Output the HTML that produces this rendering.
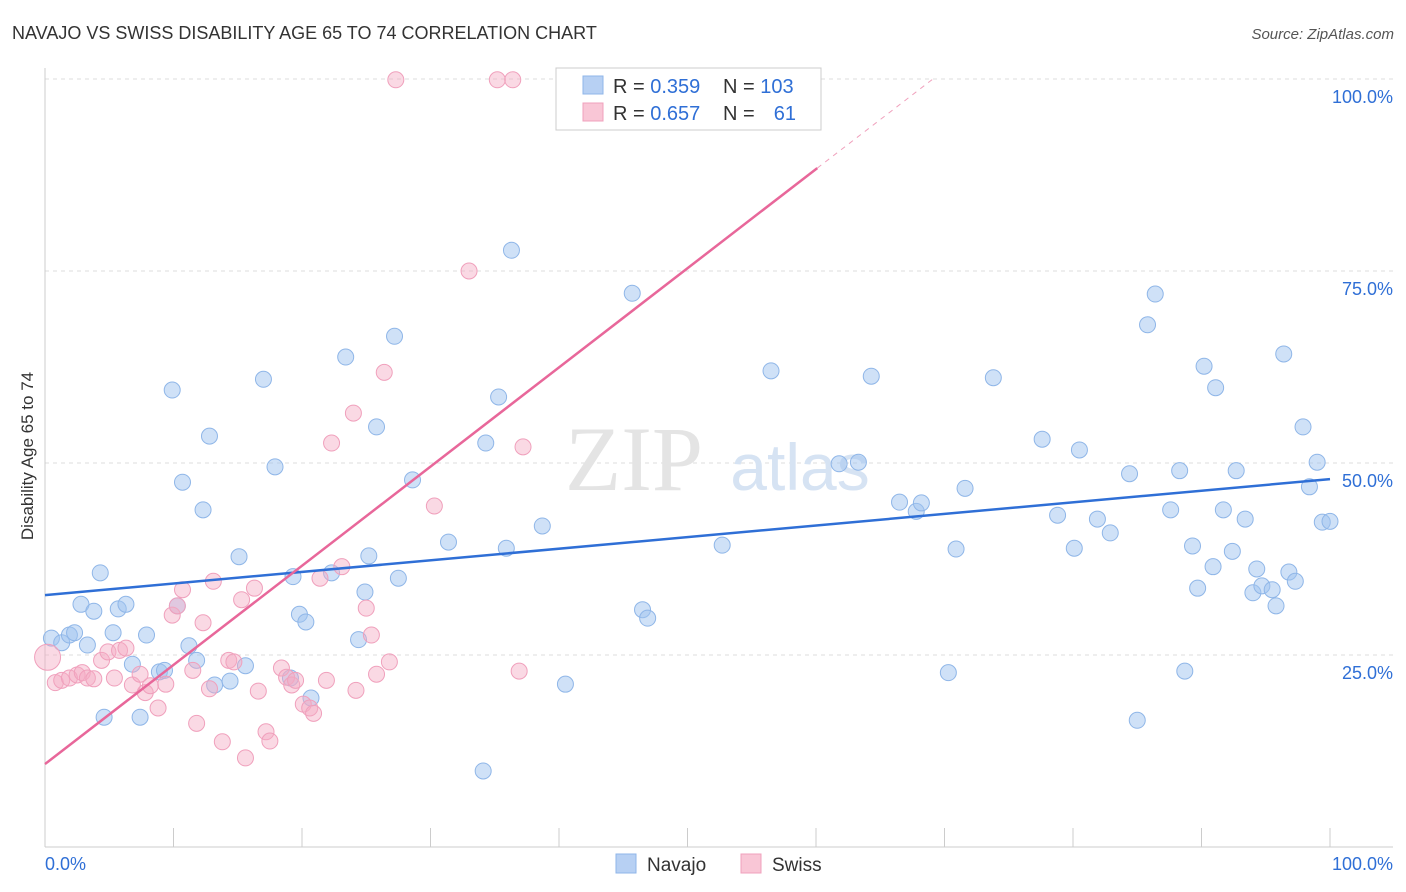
<!DOCTYPE html>
<html><head><meta charset="utf-8">
<style>
body{margin:0;background:#fff;font-family:"Liberation Sans",sans-serif;}
svg{display:block}
</style></head>
<body>
<svg id="chart" width="1406" height="892">
<text x="12" y="39" font-size="18" fill="#333">NAVAJO VS SWISS DISABILITY AGE 65 TO 74 CORRELATION CHART</text>
<text x="1394" y="39" font-size="15" fill="#555" font-style="italic" text-anchor="end">Source: ZipAtlas.com</text>
<text x="33" y="456" font-size="17" fill="#333" text-anchor="middle" transform="rotate(-90 33 456)">Disability Age 65 to 74</text>
<g id="grid"></g>
<g>
<text x="634" y="490" font-size="92" fill="#e4e4e4" font-family="Liberation Serif,serif" text-anchor="middle">ZIP</text>
<text x="800" y="490" font-size="66" fill="#d6e3f3" text-anchor="middle">atlas</text>
</g>
<g id="pts"></g>
<g id="lines"></g>
<g>
<rect x="556" y="68" width="265" height="62" fill="#fff" stroke="#ccc"/>
<rect x="583" y="76" width="20" height="18" fill="#b7d0f3" stroke="#8fb6e8"/>
<rect x="583" y="103" width="20" height="18" fill="#f9c6d6" stroke="#f0a0bc"/>
<text x="613" y="93" font-size="20" fill="#333">R = <tspan fill="#2f6fd6">0.359</tspan></text>
<text x="723" y="93" font-size="20" fill="#333">N = <tspan fill="#2f6fd6">103</tspan></text>
<text x="613" y="120" font-size="20" fill="#333">R = <tspan fill="#2f6fd6">0.657</tspan></text>
<text x="723" y="120" font-size="20" fill="#333">N =</text>
<text x="796" y="120" font-size="20" fill="#2f6fd6" text-anchor="end">61</text>
</g>
<g>
<rect x="616" y="854" width="20" height="19" fill="#b7d0f3" stroke="#8fb6e8"/>
<text x="647" y="871" font-size="19" fill="#333">Navajo</text>
<rect x="741" y="854" width="20" height="19" fill="#f9c6d6" stroke="#f0a0bc"/>
<text x="772" y="871" font-size="19" fill="#333">Swiss</text>
</g>
<text x="45" y="870" font-size="18" fill="#2f6fd6">0.0%</text>
<text x="1393" y="870" font-size="18" fill="#2f6fd6" text-anchor="end">100.0%</text>
</svg>
<script>
const navX=[0.5,1.3,1.9,2.3,3.3,4.3,2.8,3.8,5.7,6.3,5.3,7.9,4.6,7.4,6.8,8.9,9.3,9.9,10.7,10.3,11.2,11.8,12.3,12.8,13.2,14.4,15.1,15.6,17.0,17.9,19.3,19.8,20.3,19.1,20.7,22.3,23.4,24.4,24.9,25.2,25.8,27.2,27.5,28.6,31.4,34.3,35.3,35.9,36.3,34.1,38.7,40.5,45.7,46.5,46.9,52.7,56.5,61.8,63.3,64.3,66.5,67.8,68.2,70.3,70.9,71.6,73.8,77.6,78.8,80.1,80.5,81.9,82.9,84.4,85.0,85.8,86.4,87.6,88.3,88.7,89.3,89.7,90.2,90.9,91.1,91.7,92.4,92.7,93.4,94.0,94.3,94.7,95.5,95.8,96.4,96.8,97.3,97.9,98.4,99.0,99.4,100];
const navY=[27.2,26.6,27.6,27.9,26.3,35.7,31.6,30.7,31.0,31.6,27.9,27.6,16.9,16.9,23.8,22.8,23.0,59.5,47.5,31.4,26.2,24.3,43.9,53.5,21.1,21.6,37.8,23.6,60.9,49.5,35.2,30.3,29.3,22.0,19.4,35.7,63.8,27.0,33.2,37.9,54.7,66.5,35.0,47.8,39.7,52.6,58.6,38.9,77.7,9.9,41.8,21.2,72.1,30.9,29.8,39.3,62.0,49.9,50.1,61.3,44.9,43.7,44.8,22.7,38.8,46.7,61.1,53.1,43.2,38.9,51.7,42.7,40.9,48.6,16.5,68.0,72.0,43.9,49.0,22.9,39.2,33.7,62.6,36.5,59.8,43.9,38.5,49.0,42.7,33.1,36.2,34.0,33.5,31.4,64.2,35.8,34.6,54.7,46.9,50.1,42.3,42.4];
const swX=[0.2,0.8,1.3,1.9,2.5,2.9,3.3,3.8,4.4,4.9,5.4,5.8,6.3,6.8,7.4,7.8,8.2,8.8,9.4,9.9,10.3,10.7,11.5,11.8,12.3,12.8,13.1,13.8,14.3,14.7,15.3,15.6,16.3,16.6,17.2,17.5,18.4,18.8,19.2,19.5,20.1,20.6,20.9,21.4,21.9,22.3,23.1,24.0,24.2,25.0,25.4,25.8,26.4,26.8,27.3,30.3,33.0,35.2,36.4,36.9,37.2,52.2];
const swY=[24.7,21.4,21.7,22.0,22.4,22.7,22.0,21.9,24.3,25.4,22.0,25.6,25.9,21.1,22.5,20.1,21.0,18.1,21.2,30.2,31.4,33.5,23.0,16.1,29.2,20.6,34.6,13.7,24.3,24.1,32.2,11.6,33.7,20.3,15.0,13.8,23.3,22.1,21.1,21.7,18.6,18.1,17.4,35.0,21.7,52.6,36.5,56.5,20.4,31.1,27.6,22.5,61.8,24.1,99.9,44.4,75.0,99.9,99.9,22.9,52.1,99.9];
const yTicks=[25,50,75,100];
const navLine=[32.8,47.9];
const swLine=[10.8,88.4,100];
const swLineX=[0,60.1,69.1];

const NS='http://www.w3.org/2000/svg';
const X0=45,X1=1330,Y0=847,YS=7.68;
const sx=v=>X0+(X1-X0)*v/100, sy=v=>Y0-YS*v;
function mk(t,a,p){const e=document.createElementNS(NS,t);for(const k in a)e.setAttribute(k,a[k]);p.appendChild(e);return e;}
const grid=document.getElementById('grid');
yTicks.forEach(t=>{
  const l=mk('line',{x1:X0,x2:1393,y1:sy(t),y2:sy(t),stroke:'#ddd','stroke-dasharray':'4,4'},grid);
  
  
  const tx=mk('text',{x:1393,y:sy(t)+24,'font-size':18,fill:'#2f6fd6','text-anchor':'end'},grid);
  tx.textContent=t.toFixed(1)+'%';
  
  
});
const ax=mk('line',{x1:X0,x2:X0,y1:68,y2:Y0,stroke:'#ccc'},grid);


const bx=mk('line',{x1:X0,x2:1393,y1:Y0,y2:Y0,stroke:'#ccc'},grid);


for(let i=0;i<=10;i++){
  const t=mk('line',{x1:sx(i*10),x2:sx(i*10),y1:828,y2:Y0,stroke:'#ccc'},grid);
  
  
}
const pts=document.getElementById('pts');
navX.forEach((v,i)=>{
  const c=mk('circle',{cx:sx(v),cy:sy(navY[i]),r:8,fill:'rgba(160,196,240,0.5)',stroke:'#8fb6e8','stroke-width':1},pts);
  
  
});
swX.forEach((v,i)=>{
  const c=mk('circle',{cx:sx(v),cy:sy(swY[i]),r:i==0?13:8,fill:'rgba(245,170,195,0.45)',stroke:'#f0a0bc','stroke-width':1},pts);
  
  
});
const ln=document.getElementById('lines');
const bl=mk('line',{x1:sx(0),y1:sy(navLine[0]),x2:sx(100),y2:sy(navLine[1]),stroke:'#2f6fd6','stroke-width':2.5},ln);


const pl=mk('line',{x1:sx(swLineX[0]),y1:sy(swLine[0]),x2:sx(swLineX[1]),y2:sy(swLine[1]),stroke:'#e8679a','stroke-width':2.5},ln);


const pd=mk('line',{x1:sx(swLineX[1]),y1:sy(swLine[1]),x2:sx(swLineX[2]),y2:sy(swLine[2]),stroke:'#f0a0bc','stroke-width':1,'stroke-dasharray':'5,5'},ln);


</script>
</body></html>
